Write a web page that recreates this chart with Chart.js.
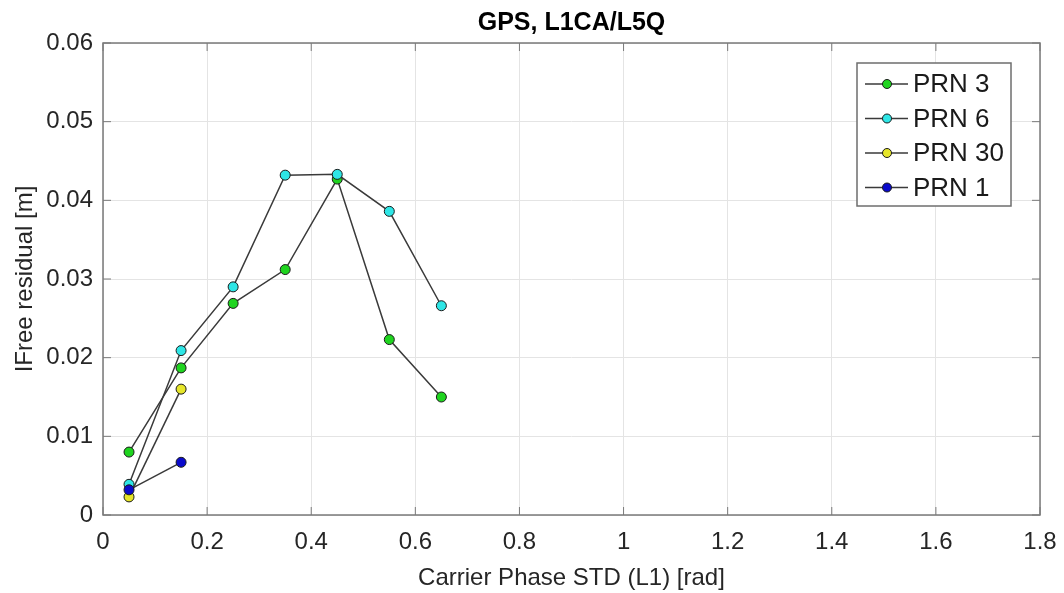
<!DOCTYPE html>
<html>
<head>
<meta charset="utf-8">
<title>GPS, L1CA/L5Q</title>
<script src="https://cdn.jsdelivr.net/npm/chart.js@4/dist/chart.umd.min.js"></script>
<style>
  body { margin: 0; background: #fff; }
  canvas { display: block; }
</style>
</head>
<body>
<canvas id="chart" width="1064" height="593"></canvas>
<script>
// values
const stdValues = [0.05, 0.15, 0.25, 0.35, 0.45, 0.55, 0.65];
const prn3 = [0.0080, 0.0187, 0.0269, 0.0312, 0.0427, 0.0223, 0.0150];
const prn6 = [0.0039, 0.0209, 0.0290, 0.0432, 0.0433, 0.0386, 0.0266];
const prn30 = [0.0023, 0.0160];
const prn1 = [0.0032, 0.0067];
const seriesNames = ["PRN 3", "PRN 6", "PRN 30", "PRN 1"];
const seriesColors = ["#1fd41f", "#2ee6e6", "#e6e62a", "#0a0acc"];
const xTicks = [0, 0.2, 0.4, 0.6, 0.8, 1, 1.2, 1.4, 1.6, 1.8];
const yTicks = [0, 0.01, 0.02, 0.03, 0.04, 0.05, 0.06];

const FONT = "'Liberation Sans', Arial, Helvetica, sans-serif";
const AXIS_COLOR = "#7a7a7a";

const toPoints = (ys) => ys.map((y, i) => ({ x: stdValues[i], y: y }));

const makeDataset = (idx, ys) => ({
    label: seriesNames[idx],
    data: toPoints(ys),
    borderColor: "#3a3a3a",
    borderWidth: 1.5,
    pointBackgroundColor: seriesColors[idx],
    pointBorderColor: "#1a1a1a",
    pointBorderWidth: 1,
    pointRadius: 5,
    fill: false,
    tension: 0,
    order: 4 - idx   // PRN 1 ends up on top
});

// box around the plot plus little inward tick marks, like MATLAB
const axesBox = {
    id: "axesBox",
    afterDraw(chart) {
        const { ctx, chartArea: a, scales } = chart;
        ctx.save();
        ctx.strokeStyle = AXIS_COLOR;
        ctx.lineWidth = 1.5;
        ctx.strokeRect(a.left, a.top, a.right - a.left, a.bottom - a.top);
        ctx.lineWidth = 1;
        ctx.beginPath();
        xTicks.forEach(v => {
            const px = scales.x.getPixelForValue(v);
            ctx.moveTo(px, a.bottom); ctx.lineTo(px, a.bottom - 8);
            ctx.moveTo(px, a.top); ctx.lineTo(px, a.top + 8);
        });
        yTicks.forEach(v => {
            const py = scales.y.getPixelForValue(v);
            ctx.moveTo(a.left, py); ctx.lineTo(a.left + 8, py);
            ctx.moveTo(a.right, py); ctx.lineTo(a.right - 8, py);
        });
        ctx.stroke();
        ctx.restore();
    }
};

// legend box in the top right corner of the axes
const boxLegend = {
    id: "boxLegend",
    afterDraw(chart) {
        const { ctx } = chart;
        const left = 857, top = 63, w = 154, h = 143;
        ctx.save();
        ctx.fillStyle = "#fff";
        ctx.fillRect(left, top, w, h);
        ctx.strokeStyle = "#6e6e6e";
        ctx.lineWidth = 1.5;
        ctx.strokeRect(left, top, w, h);
        ctx.font = "26px " + FONT;
        ctx.textBaseline = "middle";
        chart.data.datasets.forEach((ds, i) => {
            const y = 84 + i * 34.5;
            ctx.strokeStyle = "#3a3a3a";
            ctx.lineWidth = 1.5;
            ctx.beginPath();
            ctx.moveTo(865, y); ctx.lineTo(908, y);
            ctx.stroke();
            ctx.beginPath();
            ctx.arc(887, y, 4.5, 0, Math.PI * 2);
            ctx.fillStyle = ds.pointBackgroundColor;
            ctx.fill();
            ctx.strokeStyle = "#1a1a1a";
            ctx.lineWidth = 1;
            ctx.stroke();
            ctx.fillStyle = "#1a1a1a";
            ctx.fillText(ds.label, 913, y + 1);
        });
        ctx.restore();
    }
};

new Chart(document.getElementById("chart"), {
    type: "line",
    data: {
        datasets: [
            makeDataset(0, prn3),
            makeDataset(1, prn6),
            makeDataset(2, prn30),
            makeDataset(3, prn1)
        ]
    },
    options: {
        responsive: false,
        animation: false,
        layout: { padding: { left: 0, right: 24, top: 0, bottom: 0 } },
        plugins: {
            legend: { display: false },
            tooltip: { enabled: false },
            title: {
                display: true,
                fullSize: false,   // centre over the plot, not the canvas
                text: "GPS, L1CA/L5Q",
                color: "#000",
                font: { family: FONT, size: 25, weight: "bold" },
                padding: { top: 8, bottom: 5 }
            }
        },
        scales: {
            x: {
                type: "linear",
                min: 0,
                max: 1.8,
                afterBuildTicks: (scale) => { scale.ticks = xTicks.map(v => ({ value: v })); },
                afterFit: (scale) => {
                    scale.height = 78;
                    scale.paddingLeft = 0;
                    scale.paddingRight = 0;
                },
                ticks: {
                    color: "#262626",
                    font: { family: FONT, size: 24 },
                    padding: 13,
                    maxRotation: 0,
                    callback: (v) => String(v)
                },
                grid: { color: "#e4e4e4", lineWidth: 1, drawTicks: false },
                border: { display: false },
                title: {
                    display: true,
                    text: "Carrier Phase STD (L1) [rad]",
                    color: "#262626",
                    font: { family: FONT, size: 24 },
                    padding: { top: 3, bottom: 0 }
                }
            },
            y: {
                type: "linear",
                min: 0,
                max: 0.06,
                afterBuildTicks: (scale) => { scale.ticks = yTicks.map(v => ({ value: v })); },
                afterFit: (scale) => { scale.width = 103; },
                ticks: {
                    color: "#262626",
                    font: { family: FONT, size: 24 },
                    padding: 10,
                    callback: (v) => String(v)
                },
                grid: { color: "#e4e4e4", lineWidth: 1, drawTicks: false },
                border: { display: false },
                title: {
                    display: true,
                    text: "IFree residual [m]",
                    color: "#262626",
                    font: { family: FONT, size: 24 },
                    padding: { top: 11, bottom: 0 }
                }
            }
        }
    },
    plugins: [axesBox, boxLegend]
});
</script>
</body>
</html>
